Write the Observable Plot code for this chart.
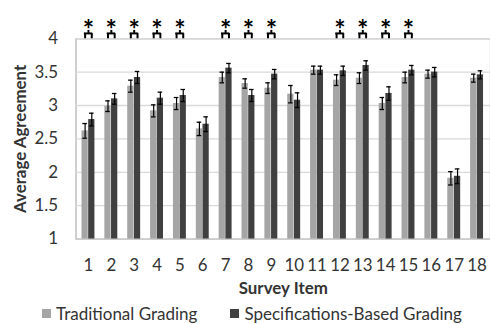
<!DOCTYPE html>
<html>
<head>
<meta charset="utf-8">
<script src="https://cdn.jsdelivr.net/npm/d3@7"></script>
<script src="https://cdn.jsdelivr.net/npm/@observablehq/plot@0.6"></script>
<style>
  html, body { margin: 0; padding: 0; background: #fff; overflow: hidden; }
  #wrap { width: 490px; height: 324px; overflow: hidden; position: relative; font-family: Lato, "Open Sans", sans-serif; }
  #legend { display: flex; align-items: center; font-size: 17px; color: #333; position: absolute; left: 42px; top: 303px; white-space: nowrap; }
  #legend .sw { width: 9px; height: 9px; display: inline-block; margin-right: 5px; }
  #legend .item { display: flex; align-items: center; margin-right: 33px; }
</style>
</head>
<body>
<div id="wrap">
  <div id="chart"></div>
  <div id="legend"></div>
</div>
<script>
const items = ["1","2","3","4","5","6","7","8","9","10","11","12","13","14","15","16","17","18"];
const seriesNames = ["Traditional Grading", "Specifications-Based Grading"];
const seriesColors = ["#a5a5a5", "#404040"];
const tradMean = [2.62, 2.99, 3.29, 2.92, 3.03, 2.65, 3.42, 3.33, 3.26, 3.17, 3.53, 3.38, 3.41, 3.03, 3.42, 3.47, 1.91, 3.41];
const tradErr  = [0.11, 0.08, 0.09, 0.09, 0.09, 0.10, 0.08, 0.07, 0.08, 0.13, 0.06, 0.08, 0.08, 0.09, 0.08, 0.06, 0.10, 0.06];
const specMean = [2.79, 3.10, 3.42, 3.11, 3.15, 2.72, 3.56, 3.15, 3.47, 3.08, 3.53, 3.52, 3.60, 3.18, 3.53, 3.50, 1.94, 3.46];
const specErr  = [0.095, 0.08, 0.09, 0.09, 0.09, 0.11, 0.07, 0.09, 0.07, 0.11, 0.06, 0.07, 0.07, 0.10, 0.07, 0.07, 0.11, 0.06];
const sigItems = ["1","2","3","4","5","7","8","9","12","13","14","15"];
const yTicks = [1, 1.5, 2, 2.5, 3, 3.5, 4];
const bracketBase = 4, bracketTop = 4.08, stemTop = 4.125, starLevel = 4.27;

const trad = items.map((it, i) => ({item: it, mean: tradMean[i], lo: tradMean[i] - tradErr[i], hi: tradMean[i] + tradErr[i]}));
const spec = items.map((it, i) => ({item: it, mean: specMean[i], lo: specMean[i] - specErr[i], hi: specMean[i] + specErr[i]}));
const sig = sigItems.map(it => ({item: it}));

const W = 493, ML = 76, MR = 0;
const step = (W - ML - MR) / items.length;
const bw = step * (1 - 0.42);
const half = bw / 2;
const cap = 5;
const capIn = (half - cap) / 2;

const plot = Plot.plot({
  width: W,
  height: 300,
  marginLeft: ML,
  marginRight: MR,
  marginTop: 38.5,
  marginBottom: 60,
  style: {fontFamily: "Lato, 'Open Sans', sans-serif", fontSize: "17px", color: "#333", background: "#fff", overflow: "visible"},
  x: {domain: items, paddingInner: 0.42, paddingOuter: 0.21, label: null, tickSize: 0, tickPadding: 20},
  y: {domain: [1, 4], ticks: yTicks, tickFormat: d => String(d), label: null, tickSize: 0, tickPadding: 18},
  marks: [
    Plot.frame({stroke: "#b5b5b5", strokeWidth: 1.3}),
    Plot.ruleY(yTicks.slice(1), {stroke: "#d9d9d9", strokeWidth: 1.3}),
    Plot.barY(trad, {x: "item", y1: 1, y2: "mean", fill: seriesColors[0], insetRight: half}),
    Plot.barY(spec, {x: "item", y1: 1, y2: "mean", fill: seriesColors[1], insetLeft: half}),
    Plot.ruleX(trad, {x: "item", y1: "lo", y2: "hi", dx: -half / 2, stroke: "#000", strokeWidth: 1.2}),
    Plot.ruleX(spec, {x: "item", y1: "lo", y2: "hi", dx: half / 2, stroke: "#000", strokeWidth: 1.2}),
    Plot.tickY(trad, {x: "item", y: "hi", insetLeft: capIn, insetRight: half + capIn, stroke: "#000", strokeWidth: 1.3}),
    Plot.tickY(trad, {x: "item", y: "lo", insetLeft: capIn, insetRight: half + capIn, stroke: "#000", strokeWidth: 1.3}),
    Plot.tickY(spec, {x: "item", y: "hi", insetLeft: half + capIn, insetRight: capIn, stroke: "#000", strokeWidth: 1.3}),
    Plot.tickY(spec, {x: "item", y: "lo", insetLeft: half + capIn, insetRight: capIn, stroke: "#000", strokeWidth: 1.3}),
    Plot.ruleX(sig, {x: "item", y1: bracketBase, y2: bracketTop, dx: -half / 2, stroke: "#000", strokeWidth: 2}),
    Plot.ruleX(sig, {x: "item", y1: bracketBase, y2: bracketTop, dx: half / 2, stroke: "#000", strokeWidth: 2}),
    Plot.tickY(sig, {x: "item", y: bracketTop, insetLeft: half / 2 - 1, insetRight: half / 2 - 1, stroke: "#000", strokeWidth: 2}),
    Plot.ruleX(sig, {x: "item", y1: bracketTop, y2: stemTop, stroke: "#000", strokeWidth: 2}),
    Plot.text(sig, {x: "item", y: starLevel, text: d => "*", fontSize: 27, fontWeight: "bold", fill: "#000", dy: 10}),
    Plot.text(["Average Agreement"], {frameAnchor: "left", textAnchor: "middle", lineAnchor: "middle", text: d => d, rotate: -90, dx: -56, fontWeight: "bold", fill: "#333"}),
    Plot.text(["Survey Item"], {frameAnchor: "bottom", textAnchor: "middle", lineAnchor: "middle", text: d => d, dy: 50, fontWeight: "bold", fill: "#333"})
  ]
});
document.getElementById("chart").appendChild(plot);

const legend = document.getElementById("legend");
seriesNames.forEach((name, i) => {
  const el = document.createElement("div");
  el.className = "item";
  const sw = document.createElement("span");
  sw.className = "sw";
  sw.style.background = seriesColors[i];
  el.appendChild(sw);
  el.appendChild(document.createTextNode(name));
  legend.appendChild(el);
});
</script>
</body>
</html>
